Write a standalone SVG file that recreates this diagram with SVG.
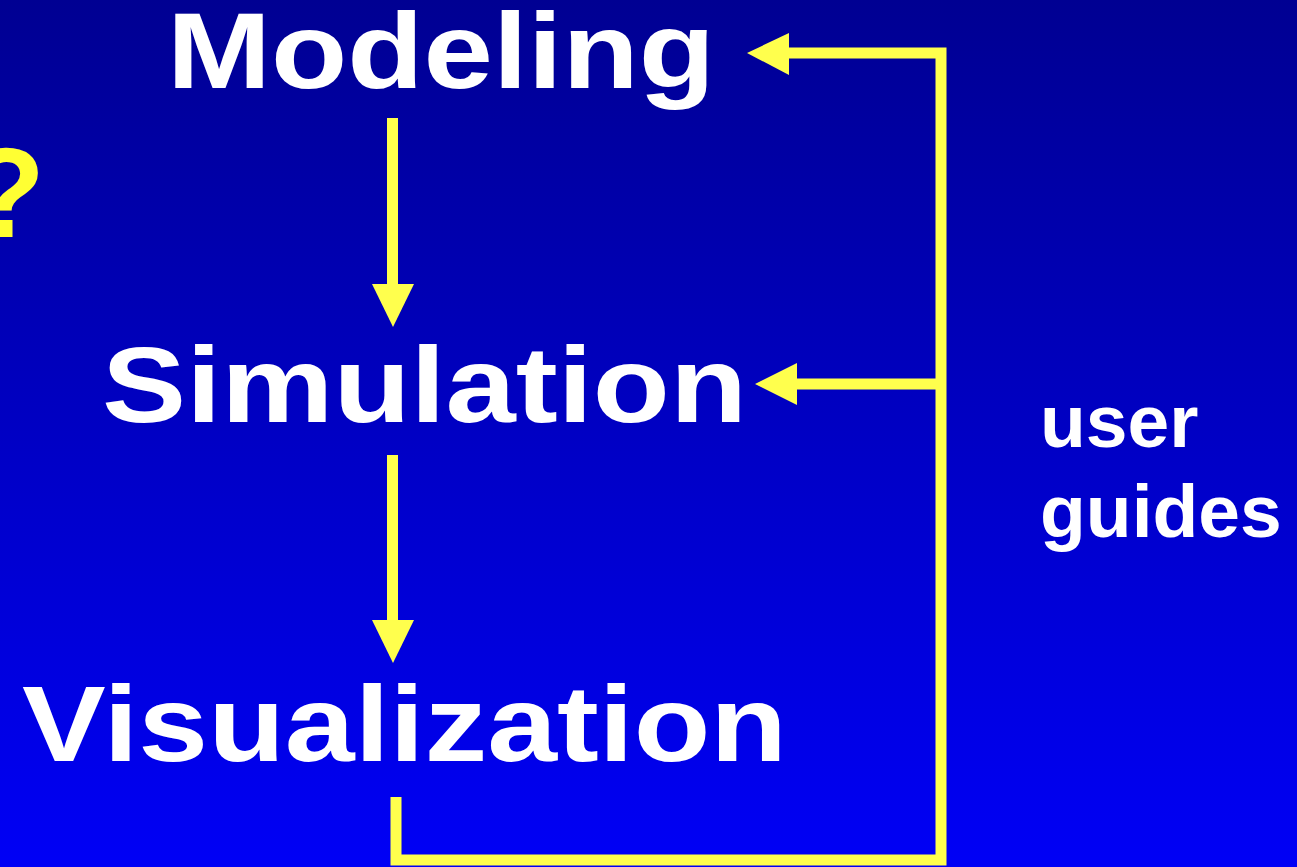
<svg xmlns="http://www.w3.org/2000/svg" width="1297" height="867" viewBox="0 0 1297 867">
  <defs>
    <linearGradient id="bg" x1="0" y1="0" x2="0" y2="1">
      <stop offset="0" stop-color="#000092"/>
      <stop offset="1" stop-color="#0000f6"/>
    </linearGradient>
    <style>
      .big { font-family: "Liberation Sans", Arial, sans-serif; font-weight: bold; font-size: 108px; fill: #ffffff; }
      .side { font-family: "Liberation Sans", Arial, sans-serif; font-weight: bold; font-size: 75px; fill: #ffffff; }
      .mark { font-family: "Liberation Sans", Arial, sans-serif; font-weight: bold; font-size: 128px; fill: #ffff33; }
      .line { fill: none; stroke: #ffff4d; stroke-width: 11; stroke-linejoin: miter; stroke-linecap: butt; }
      .head { fill: #ffff4d; }
    </style>
  </defs>

  <rect x="0" y="0" width="1297" height="867" fill="url(#bg)"/>

  <text class="mark" x="-33" y="237">?</text>

  <g id="modeling">
    <text class="big" x="167" y="88" textLength="548" lengthAdjust="spacingAndGlyphs">Modeling</text>
  </g>
  <g id="simulation">
    <text class="big" x="102" y="422" textLength="645" lengthAdjust="spacingAndGlyphs">Simulation</text>
  </g>
  <g id="visualization">
    <text class="big" x="22" y="761" textLength="765" lengthAdjust="spacingAndGlyphs">Visualization</text>
  </g>
  <g id="user-guides">
    <text class="side" x="1040" y="447">user</text>
    <text class="side" x="1040" y="537">guides</text>
  </g>

  <g id="connectors">
    <!-- Modeling to Simulation -->
    <line class="line" x1="392.5" y1="118" x2="392.5" y2="286"/>
    <polygon class="head" points="372,284 414,284 393,327"/>
    <!-- Simulation to Visualization -->
    <line class="line" x1="392.5" y1="455" x2="392.5" y2="622"/>
    <polygon class="head" points="372,620 414,620 393,663"/>
    <!-- feedback loop from Visualization back up -->
    <polyline class="line" points="396,797 396,860 941,860 941,53 787,53"/>
    <polygon class="head" points="789,33 789,75 747,53"/>
    <!-- branch into Simulation -->
    <line class="line" x1="941" y1="384" x2="795" y2="384"/>
    <polygon class="head" points="797,363 797,405 755,384"/>
  </g>
</svg>
